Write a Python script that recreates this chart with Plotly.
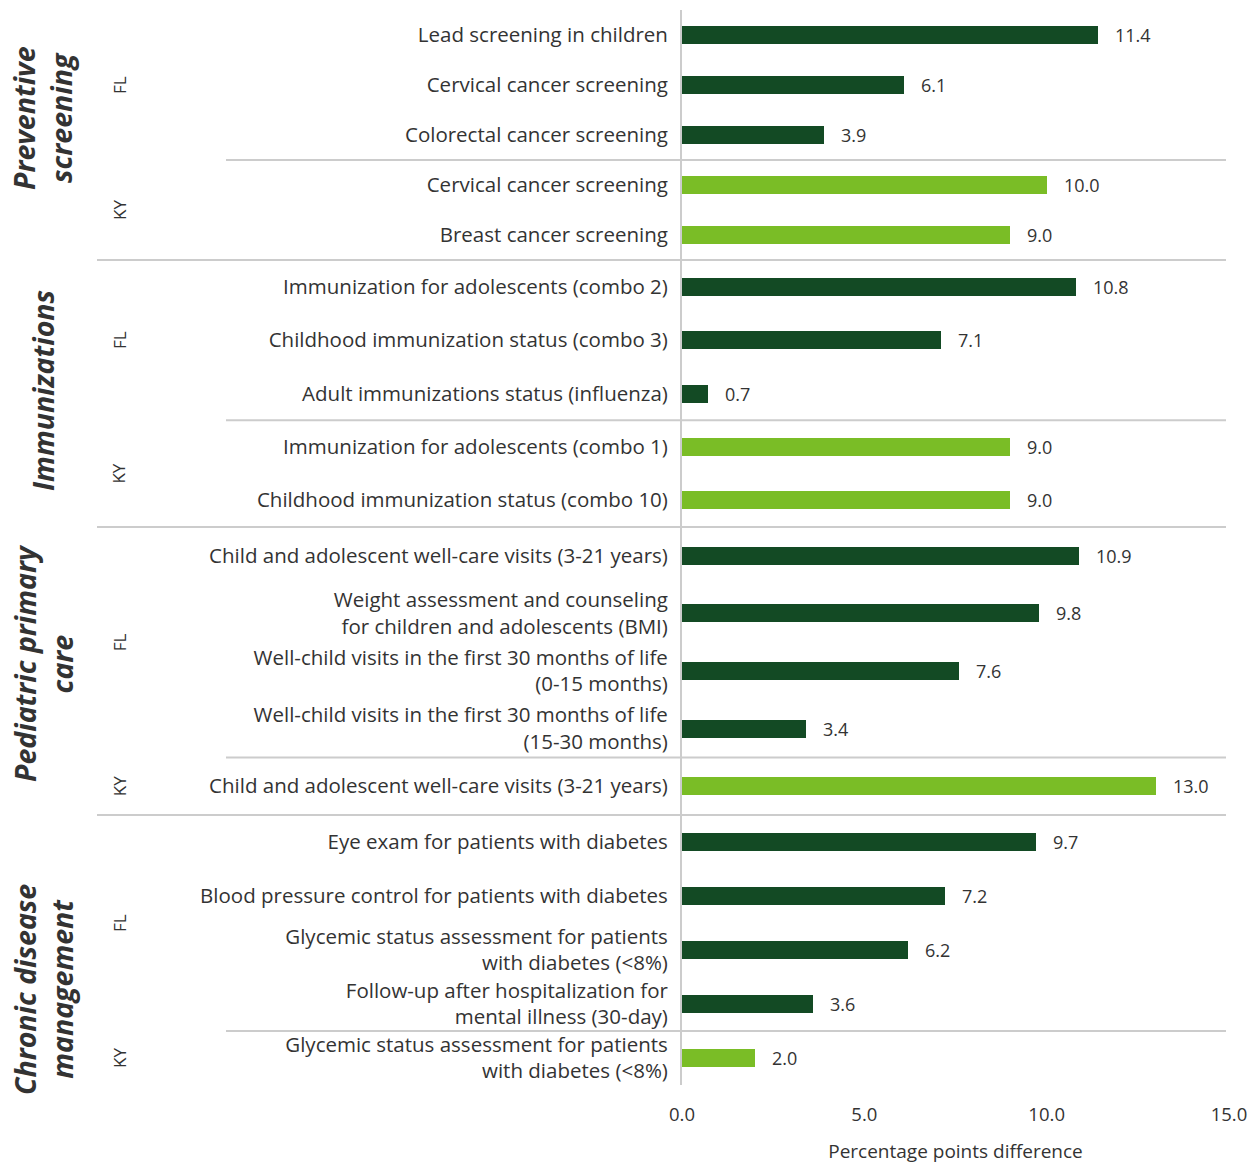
import plotly.graph_objects as go
from plotly.subplots import make_subplots

sections = ["Preventive<br>screening", "Immunizations", "Pediatric primary<br>care", "Chronic disease<br>management"]

section_of = [0, 0, 0, 0, 0,
              1, 1, 1, 1, 1,
              2, 2, 2, 2, 2,
              3, 3, 3, 3, 3]
states = ["FL", "FL", "FL", "KY", "KY",
          "FL", "FL", "FL", "KY", "KY",
          "FL", "FL", "FL", "FL", "KY",
          "FL", "FL", "FL", "FL", "KY"]
labels = [
    "Lead screening in children",
    "Cervical cancer screening",
    "Colorectal cancer screening",
    "Cervical cancer screening",
    "Breast cancer screening",
    "Immunization for adolescents (combo 2)",
    "Childhood immunization status (combo 3)",
    "Adult immunizations status (influenza)",
    "Immunization for adolescents (combo 1)",
    "Childhood immunization status (combo 10)",
    "Child and adolescent well-care visits (3-21 years)",
    "Weight assessment and counseling<br>for children and adolescents (BMI)",
    "Well-child visits in the first 30 months of life<br>(0-15 months)",
    "Well-child visits in the first 30 months of life<br>(15-30 months)",
    "Child and adolescent well-care visits (3-21 years)",
    "Eye exam for patients with diabetes",
    "Blood pressure control for patients with diabetes",
    "Glycemic status assessment for patients<br>with diabetes (<8%)",
    "Follow-up after hospitalization for<br>mental illness (30-day)",
    "Glycemic status assessment for patients<br>with diabetes (<8%)",
]
values = [11.4, 6.1, 3.9, 10.0, 9.0,
          10.8, 7.1, 0.7, 9.0, 9.0,
          10.9, 9.8, 7.6, 3.4, 13.0,
          9.7, 7.2, 6.2, 3.6, 2.0]
x_ticks = [0, 5, 10, 15]

state_colors = {"FL": "#134a24", "KY": "#7abd26"}

FONT = "Open Sans"
TXT = "#333333"
GRID = "#cccccc"

W, H = 1253, 1164
PL, PR, PT, PB = 682, 1229, 10, 1085
sec_px = [250, 267, 288, 270]
bar_px = 18

fig = make_subplots(rows=4, cols=1, shared_xaxes=True, vertical_spacing=0,
                    row_heights=sec_px)

def xp(px):
    return (px - PL) / (PR - PL)

def yp(py):
    return 1 - (py - PT) / (PB - PT)

NB = "\u00a0"

for s in range(len(sections)):
    idx = [i for i in range(len(values)) if section_of[i] == s]
    n = len(idx)
    pos = list(range(n))
    fig.add_trace(go.Bar(
        x=[values[i] for i in idx],
        y=pos,
        orientation="h",
        marker=dict(color=[state_colors[states[i]] for i in idx], line=dict(width=0)),
        width=bar_px / (sec_px[s] / n),
        text=[f"{NB * 3}{values[i]:.1f}" for i in idx],
        textposition="outside",
        constraintext="none",
        textfont=dict(family=FONT, size=18, color=TXT),
        cliponaxis=False,
        showlegend=False,
        hoverinfo="skip",
    ), row=s + 1, col=1)
    ax = "y" if s == 0 else f"y{s + 1}"
    fig.update_yaxes(
        tickmode="array", tickvals=pos, ticktext=[labels[i] for i in idx],
        range=[n - 0.5, -0.5], showgrid=False, zeroline=False,
        showline=True, linecolor=GRID, linewidth=2,
        ticks="", ticklabelstandoff=8, automargin=False,
        tickfont=dict(family=FONT, size=20.5, color=TXT),
        row=s + 1, col=1)

    # state group labels and FL/KY separator
    st = [states[i] for i in idx]
    for name in ["FL", "KY"]:
        p = [k for k in pos if st[k] == name]
        if p:
            fig.add_annotation(
                x=xp(119), xref="paper", y=sum(p) / len(p), yref=ax,
                text=name, textangle=-90, showarrow=False,
                xanchor="center", yanchor="middle",
                font=dict(family=FONT, size=17, color=TXT))
    last_fl = max(k for k in pos if st[k] == "FL")
    fig.add_shape(type="line", xref="paper", yref=ax,
                  x0=xp(226), x1=xp(1226), y0=last_fl + 0.5, y1=last_fl + 0.5,
                  line=dict(color=GRID, width=2))
    if s < len(sections) - 1:
        fig.add_shape(type="line", xref="paper", yref=f"{ax} domain",
                      x0=xp(97), x1=xp(1226), y0=0, y1=0,
                      line=dict(color=GRID, width=2))

# section titles
title_centers = [118, 391, 663, 990]
for s, name in enumerate(sections):
    fig.add_annotation(
        x=xp(43), xref="paper", y=yp(title_centers[s]), yref="paper",
        text=f"<b><i>{name}</i></b>", textangle=-90, showarrow=False,
        xanchor="center", yanchor="middle",
        font=dict(family=FONT, size=28.5, color=TXT))

fig.update_xaxes(range=[0, 15], tickvals=x_ticks, tickformat=".1f",
                 showgrid=False, zeroline=False, showline=False, ticks="",
                 ticklabelstandoff=16, automargin=False,
                 tickfont=dict(family=FONT, size=18.5, color=TXT))
fig.update_xaxes(title=dict(text="Percentage points difference", standoff=20,
                            font=dict(family=FONT, size=19, color=TXT)),
                 row=4, col=1)

fig.update_layout(
    width=W, height=H, autosize=False,
    margin=dict(l=PL, r=W - PR, t=PT, b=H - PB, autoexpand=False),
    plot_bgcolor="white", paper_bgcolor="white",
    bargap=0,
)

fig.write_html(
    "out.html",
    config={"responsive": False, "displayModeBar": False},
    post_script="document.body.style.margin='0';document.body.style.overflow='hidden';",
)
